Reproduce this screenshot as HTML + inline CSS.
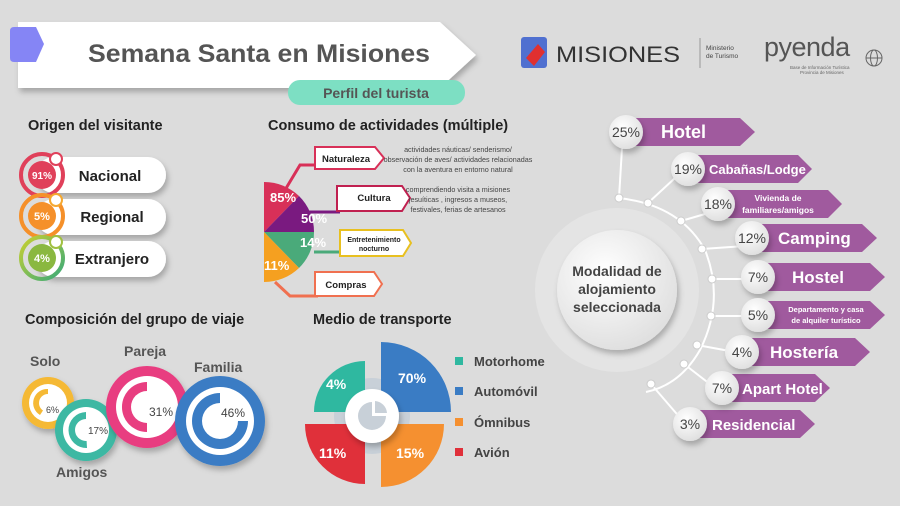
<!DOCTYPE html>
<html><head><meta charset="utf-8"><style>
html,body{margin:0;padding:0;background:#dcdcdc;}
svg{display:block;font-family:"Liberation Sans",sans-serif;}
</style></head><body>
<svg width="900" height="506" viewBox="0 0 900 506" xmlns="http://www.w3.org/2000/svg">
<defs>
<filter id="sh" x="-20%" y="-20%" width="140%" height="160%"><feDropShadow dx="2" dy="4" stdDeviation="3" flood-color="#000" flood-opacity="0.25"/></filter>
<radialGradient id="cg" cx="40%" cy="35%" r="70%"><stop offset="0" stop-color="#fff"/><stop offset="1" stop-color="#dedede"/></radialGradient>
<linearGradient id="gr" x1="0" y1="0" x2="1" y2="1"><stop offset="0" stop-color="#c8d030"/><stop offset="1" stop-color="#3aaa7a"/></linearGradient>
</defs>
<rect width="900" height="506" fill="#dcdcdc"/>

<!-- Title banner -->
<path d="M18 22 H440 L476 55 L440 88 H18 Z" fill="#fff" filter="url(#sh)"/>
<path d="M14 27 H36 L44 44 L36 62 H14 Q10 62 10 58 V31 Q10 27 14 27Z" fill="#8585f5"/>
<text x="88" y="62" textLength="342" lengthAdjust="spacingAndGlyphs" font-size="25" font-weight="bold" fill="#555">Semana Santa en Misiones</text>
<rect x="288" y="80" width="177" height="25" rx="12" fill="#7ddfc3"/>
<text x="376" y="98" text-anchor="middle" font-size="14" font-weight="bold" fill="#555">Perfil del turista</text>

<!-- Logos -->
<rect x="521" y="37" width="26" height="31" rx="3" fill="#5070d0"/>
<path d="M526 58 L538 44 L545 52 L534 66Z" fill="#e03030"/>
<text x="556" y="62" font-size="22" fill="#333" textLength="124" lengthAdjust="spacingAndGlyphs">MISIONES</text>
<line x1="700" y1="38" x2="700" y2="68" stroke="#999"/>
<text x="706" y="50" font-size="6.5" fill="#444">Ministerio</text>
<text x="706" y="58" font-size="6.5" fill="#444">de Turismo</text>
<text x="764" y="56" font-size="27" fill="#555" letter-spacing="-0.5">pyenda</text>
<text x="790" y="69" font-size="4.5" fill="#666">Base de Información Turística</text>
<text x="800" y="74" font-size="4.5" fill="#666">Provincia de Misiones</text>
<circle cx="874" cy="58" r="8" fill="none" stroke="#666"/>
<line x1="866" y1="58" x2="882" y2="58" stroke="#666"/><ellipse cx="874" cy="58" rx="3.5" ry="8" fill="none" stroke="#666"/>

<!-- Section titles -->
<g font-size="14.5" font-weight="bold" fill="#222">
<text x="28" y="130">Origen del visitante</text>
<text x="268" y="130">Consumo de actividades (múltiple)</text>
<text x="25" y="324">Composición del grupo de viaje</text>
<text x="313" y="324">Medio de transporte</text>
</g>

<!-- Origen -->
<g filter="url(#sh)">
<rect x="36" y="157" width="130" height="36" rx="18" fill="#fff"/>
<rect x="36" y="199" width="130" height="36" rx="18" fill="#fff"/>
<rect x="36" y="241" width="130" height="36" rx="18" fill="#fff"/>
</g>
<g>
<circle cx="42" cy="175" r="21" fill="none" stroke="#e0405a" stroke-width="4"/>
<circle cx="42" cy="175" r="14" fill="#e0405a"/><circle cx="56" cy="159" r="6" fill="#fff" stroke="#e0405a" stroke-width="2"/>
<text x="42" y="179" text-anchor="middle" font-size="10" font-weight="bold" fill="#fff">91%</text>
<circle cx="42" cy="216" r="21" fill="none" stroke="#f5902a" stroke-width="4"/>
<circle cx="42" cy="216" r="14" fill="#f5902a"/><circle cx="56" cy="200" r="6" fill="#fff" stroke="#f5a830" stroke-width="2"/>
<text x="42" y="220" text-anchor="middle" font-size="11" font-weight="bold" fill="#fff">5%</text>
<circle cx="42" cy="258" r="21" fill="none" stroke="url(#gr)" stroke-width="4"/>
<circle cx="42" cy="258" r="14" fill="#8ab840"/><circle cx="56" cy="242" r="6" fill="#fff" stroke="#a0c040" stroke-width="2"/>
<text x="42" y="262" text-anchor="middle" font-size="11" font-weight="bold" fill="#fff">4%</text>
</g>
<g font-size="15" font-weight="bold" fill="#222" text-anchor="middle">
<text x="110" y="181">Nacional</text><text x="112" y="222">Regional</text><text x="112" y="264">Extranjero</text>
</g>

<!-- Consumo -->
<path d="M264 182 L264 232 L299 196 A50 50 0 0 0 264 182Z" fill="#d83058"/>
<path d="M264 232 L299 196 A50 50 0 0 1 314 232 Z" fill="#7a1a80"/>
<path d="M264 232 L314 232 A50 50 0 0 1 299 268 Z" fill="#4aaa7a"/>
<path d="M264 232 L299 268 A50 50 0 0 1 264 282 Z" fill="#f5a020"/>
<g font-weight="bold" fill="#fff" font-size="13">
<text x="270" y="202">85%</text><text x="301" y="223">50%</text><text x="300" y="247">14%</text><text x="264" y="270">11%</text>
</g>
<polyline points="285,190 300,165 315,165" fill="none" stroke="#d83058" stroke-width="3"/>
<path d="M315 147 H375 L384 158 L375 169 H315 Z" fill="#fff" stroke="#d83058" stroke-width="2"/>
<text x="346" y="162" text-anchor="middle" font-size="9.5" font-weight="bold" fill="#222">Naturaleza</text>
<polyline points="300,212 340,212" fill="none" stroke="#7a1a80" stroke-width="3"/>
<path d="M337 186 H402 L410 198 L402 211 H337 Z" fill="#fff" stroke="#c02050" stroke-width="2"/>
<text x="374" y="201" text-anchor="middle" font-size="9.5" font-weight="bold" fill="#222">Cultura</text>
<polyline points="314,252 345,252" fill="none" stroke="#4aaa7a" stroke-width="3"/>
<path d="M340 230 H403 L411 243 L403 256 H340 Z" fill="#fff" stroke="#e8c020" stroke-width="2"/>
<text x="374" y="242" text-anchor="middle" font-size="7" font-weight="bold" fill="#222">Entretenimiento</text>
<text x="374" y="251" text-anchor="middle" font-size="7" font-weight="bold" fill="#222">nocturno</text>
<polyline points="275,282 290,296 318,296" fill="none" stroke="#f07050" stroke-width="3"/>
<path d="M315 272 H374 L382 284 L374 296 H315 Z" fill="#fff" stroke="#f07050" stroke-width="2"/>
<text x="346" y="288" text-anchor="middle" font-size="9.5" font-weight="bold" fill="#222">Compras</text>
<g font-size="7.2" fill="#444" text-anchor="middle">
<text x="458" y="152">actividades náuticas/ senderismo/</text>
<text x="458" y="162">observación de aves/ actividades relacionadas</text>
<text x="458" y="172">con la aventura en entorno natural</text>
<text x="458" y="192">comprendiendo visita a misiones</text>
<text x="458" y="202">jesuíticas , ingresos a museos,</text>
<text x="458" y="212">festivales, ferias de artesanos</text>
</g>

<!-- Alojamiento -->
<circle cx="617" cy="290" r="82" fill="#e4e4e4"/>
<circle cx="617" cy="290" r="60" fill="url(#cg)" filter="url(#sh)"/>
<g font-size="14" font-weight="bold" fill="#444" text-anchor="middle">
<text x="617" y="276">Modalidad de</text><text x="617" y="294">alojamiento</text><text x="617" y="312">seleccionada</text>
</g>
<path d="M619 198 Q680 205 705 250 Q725 300 700 350 Q680 385 646 392" fill="none" stroke="#fff" stroke-width="2"/>
<g stroke="#fff" stroke-width="2" fill="none">
<line x1="619" y1="198" x2="622" y2="148"/><line x1="648" y1="203" x2="675" y2="178"/>
<line x1="681" y1="221" x2="712" y2="212"/><line x1="702" y1="249" x2="745" y2="246"/>
<line x1="712" y1="279" x2="750" y2="279"/><line x1="711" y1="316" x2="748" y2="316"/>
<line x1="697" y1="345" x2="735" y2="352"/><line x1="684" y1="364" x2="715" y2="388"/>
<line x1="651" y1="384" x2="682" y2="420"/>
</g>
<g fill="#fff" stroke="#ccc" stroke-width="1">
<circle cx="619" cy="198" r="4"/><circle cx="648" cy="203" r="4"/><circle cx="681" cy="221" r="4"/><circle cx="702" cy="249" r="4"/><circle cx="712" cy="279" r="4"/><circle cx="711" cy="316" r="4"/><circle cx="697" cy="345" r="4"/><circle cx="684" cy="364" r="4"/><circle cx="651" cy="384" r="4"/>
</g>
<g fill="#a05a9e">
<path d="M632 118 H740 L755 132 L740 146 H632Z"/>
<path d="M694 155 H798 L812 169 L798 183 H694Z"/>
<path d="M726 190 H828 L842 204 L828 218 H726Z"/>
<path d="M758 224 H862 L877 238 L862 252 H758Z"/>
<path d="M764 263 H870 L885 277 L870 291 H764Z"/>
<path d="M764 301 H870 L885 315 L870 329 H764Z"/>
<path d="M750 338 H855 L870 352 L855 366 H750Z"/>
<path d="M728 374 H815 L830 388 L815 402 H728Z"/>
<path d="M698 410 H800 L815 424 L800 438 H698Z"/>
</g>
<g fill="url(#cg)" filter="url(#sh)">
<circle cx="626" cy="132" r="17"/><circle cx="688" cy="169" r="17"/><circle cx="718" cy="204" r="17"/>
<circle cx="752" cy="238" r="17"/><circle cx="758" cy="277" r="17"/><circle cx="758" cy="315" r="17"/>
<circle cx="742" cy="352" r="17"/><circle cx="722" cy="388" r="17"/><circle cx="690" cy="424" r="17"/>
</g>
<g font-size="14" fill="#444" text-anchor="middle">
<text x="626" y="137">25%</text><text x="688" y="174">19%</text><text x="718" y="209">18%</text>
<text x="752" y="243">12%</text><text x="758" y="282">7%</text><text x="758" y="320">5%</text>
<text x="742" y="357">4%</text><text x="722" y="393">7%</text><text x="690" y="429">3%</text>
</g>
<g font-weight="bold" fill="#fff">
<text x="661" y="138" font-size="18">Hotel</text>
<text x="709" y="174" font-size="13">Cabañas/Lodge</text>
<text x="778" y="201" font-size="8.5" text-anchor="middle">Vivienda de</text>
<text x="778" y="213" font-size="8.5" text-anchor="middle">familiares/amigos</text>
<text x="778" y="244" font-size="17">Camping</text>
<text x="792" y="283" font-size="17">Hostel</text>
<text x="826" y="312" font-size="7.5" text-anchor="middle">Departamento y casa</text>
<text x="826" y="323" font-size="7.5" text-anchor="middle">de alquiler turístico</text>
<text x="770" y="358" font-size="17">Hostería</text>
<text x="742" y="394" font-size="15">Apart Hotel</text>
<text x="712" y="430" font-size="15">Residencial</text>
</g>

<!-- Grupo de viaje -->
<g font-size="14" font-weight="bold" fill="#555">
<text x="30" y="366">Solo</text><text x="124" y="356">Pareja</text><text x="194" y="372">Familia</text><text x="56" y="477">Amigos</text>
</g>
<circle cx="48" cy="403" r="26" fill="#f5b935" filter="url(#sh)"/>
<circle cx="48" cy="403" r="19" fill="#fff"/>
<path d="M48 403 L48 389 A14 14 0 0 0 40 415 Z" fill="#f5b935"/>
<circle cx="48" cy="403" r="9" fill="#fff"/>
<text x="46" y="413" font-size="9" fill="#444">6%</text>
<circle cx="86" cy="430" r="31" fill="#3db8a3" filter="url(#sh)"/>
<circle cx="86" cy="430" r="23" fill="#fff"/>
<path d="M86 430 L86 412 A18 18 0 0 0 87 448 Z" fill="#3db8a3"/>
<circle cx="86" cy="430" r="11" fill="#fff"/>
<text x="88" y="434" font-size="10" fill="#444">17%</text>
<circle cx="147" cy="407" r="41" fill="#e83e80" filter="url(#sh)"/>
<circle cx="147" cy="407" r="31" fill="#fff"/>
<path d="M147 407 L147 382 A25 25 0 1 0 147 432 Z" fill="#e83e80"/>
<circle cx="147" cy="407" r="16" fill="#fff"/>
<text x="149" y="416" font-size="12" fill="#444">31%</text>
<circle cx="220" cy="421" r="45" fill="#3a7cc4" filter="url(#sh)"/>
<circle cx="220" cy="421" r="34" fill="#fff"/>
<path d="M220 421 L220 393 A28 28 0 1 0 248 421 Z" fill="#3a7cc4"/>
<circle cx="220" cy="421" r="18" fill="#fff"/>
<text x="221" y="417" font-size="12" fill="#444">46%</text>

<!-- Transporte -->
<circle cx="372" cy="416" r="38" fill="#c8d0d8"/>
<path d="M365 412 L365 361 A51 51 0 0 0 314 412 Z" fill="#2fb8a0"/>
<path d="M381 412 L381 342 A70 70 0 0 1 451 412 Z" fill="#3a7cc4"/>
<path d="M381 424 L444 424 A63 63 0 0 1 381 487 Z" fill="#f59030"/>
<path d="M365 424 L365 484 A60 60 0 0 1 305 424 Z" fill="#e0303a"/>
<circle cx="372" cy="416" r="27" fill="#fff" filter="url(#sh)"/>
<path d="M372 416 L372 402 A14 14 0 1 0 386 416 Z" fill="#c8d0d8"/>
<path d="M375 413 L375 401 A13 13 0 0 1 387 413 Z" fill="#c8d0d8"/>
<g font-size="14" font-weight="bold" fill="#fff">
<text x="326" y="389">4%</text><text x="398" y="383">70%</text><text x="319" y="458">11%</text><text x="396" y="458">15%</text>
</g>
<rect x="455" y="357" width="8" height="8" fill="#2fb8a0"/>
<rect x="455" y="387" width="8" height="8" fill="#3a7cc4"/>
<rect x="455" y="418" width="8" height="8" fill="#f59030"/>
<rect x="455" y="448" width="8" height="8" fill="#e0303a"/>
<g font-size="13" fill="#444" font-weight="bold">
<text x="474" y="366">Motorhome</text><text x="474" y="396">Automóvil</text><text x="474" y="427">Ómnibus</text><text x="474" y="457">Avión</text>
</g>
</svg>
</body></html>
